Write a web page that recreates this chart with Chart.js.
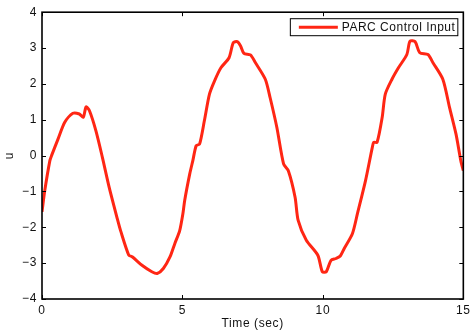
<!DOCTYPE html>
<html>
<head>
<meta charset="utf-8">
<script src="https://cdn.jsdelivr.net/npm/chart.js@4/dist/chart.umd.min.js"></script>
<style>
  html, body { margin: 0; padding: 0; background: #fff; }
  #wrap { width: 474px; height: 331px; }
</style>
</head>
<body>
<div id="wrap"><canvas id="chart"></canvas></div>
<script>
// time samples (sec) and control input u
const times = [0.00, 0.10, 0.28, 0.34, 0.57, 0.81, 1.10, 1.33, 1.47, 1.57, 1.69, 1.92, 2.15, 2.39, 2.68,
  2.80, 3.09, 3.21, 3.56, 3.91, 4.10, 4.32, 4.56, 4.73, 4.90, 5.02, 5.08, 5.26, 5.37, 5.49, 5.61,
  5.78, 5.96, 6.14, 6.37, 6.66, 6.81, 6.95, 7.07, 7.19, 7.42, 7.60, 7.95, 8.12, 8.36, 8.60, 8.77,
  9.01, 9.12, 9.41, 9.82, 9.98, 10.12, 10.29, 10.47, 10.62, 10.76, 11.05, 11.23, 11.52, 11.76,
  11.81, 11.93, 12.11, 12.22, 12.46, 12.69, 12.99, 13.10, 13.28, 13.45, 13.74, 13.92, 14.27,
  14.51, 14.74, 14.91, 15.00];
const controlInput = [-1.57, -0.97, -0.14, 0.00, 0.46, 0.93, 1.18, 1.16, 1.07, 1.36, 1.25, 0.69, -0.05, -0.88, -1.76,
  -2.10, -2.78, -2.82, -3.06, -3.24, -3.29, -3.15, -2.82, -2.45, -2.10, -1.60, -1.25, -0.51, -0.14, 0.28, 0.32,
  0.97, 1.71, 2.08, 2.45, 2.73, 3.15, 3.18, 3.06, 2.85, 2.81, 2.59, 2.13, 1.62, 0.79, -0.23, -0.42,
  -1.16, -1.81, -2.36, -2.78, -3.24, -3.24, -2.92, -2.87, -2.80, -2.59, -2.18, -1.62, -0.69, 0.23,
  0.37, 0.37, 1.06, 1.71, 2.13, 2.45, 2.82, 3.19, 3.18, 2.87, 2.82, 2.59, 2.13,
  1.34, 0.60, -0.14, -0.42];
const xTicks = [0, 5, 10, 15];
const yTicks = [-4, -3, -2, -1, 0, 1, 2, 3, 4];

const FONT = 'Liberation Sans, Arial, Helvetica, sans-serif';
const RED = 'rgb(255, 38, 20)';
const SPACING = '0.6px';

// matlab style box: frame, inward ticks on all four sides, legend with border
const boxPlugin = {
  id: 'matlabBox',
  beforeDraw(chart) { chart.ctx.letterSpacing = SPACING; },
  afterDatasetsDraw(chart) {
    const { ctx, chartArea: a, scales } = chart;
    ctx.save();
    ctx.strokeStyle = '#000';
    ctx.lineWidth = 1;
    const tl = 4;
    ctx.beginPath();
    xTicks.forEach(v => {
      const px = Math.round(scales.x.getPixelForValue(v)) + 0.5;
      ctx.moveTo(px, a.bottom); ctx.lineTo(px, a.bottom - tl);
      ctx.moveTo(px, a.top); ctx.lineTo(px, a.top + tl);
    });
    yTicks.forEach(v => {
      const py = Math.round(scales.y.getPixelForValue(v)) + 0.5;
      ctx.moveTo(a.left, py); ctx.lineTo(a.left + tl, py);
      ctx.moveTo(a.right, py); ctx.lineTo(a.right - tl, py);
    });
    ctx.stroke();
    ctx.lineWidth = 1.6;
    ctx.strokeRect(a.left, a.top, a.right - a.left, a.bottom - a.top);

    // legend
    const ds = chart.data.datasets[0];
    ctx.font = '12px ' + FONT;
    ctx.letterSpacing = '0.5px';
    const tw = ctx.measureText(ds.label).width;
    const bw = 9 + 39 + 4 + tw + 2, bh = 17;
    const bx = a.right - 6 - bw, by = a.top + 6;
    ctx.fillStyle = '#fff';
    ctx.fillRect(bx, by, bw, bh);
    ctx.lineWidth = 1;
    ctx.strokeStyle = '#000';
    ctx.strokeRect(bx + 0.5, by + 0.5, bw, bh);
    ctx.strokeStyle = ds.borderColor;
    ctx.lineWidth = 3;
    ctx.beginPath();
    ctx.moveTo(bx + 9, by + bh / 2 + 0.5);
    ctx.lineTo(bx + 48, by + bh / 2 + 0.5);
    ctx.stroke();
    ctx.fillStyle = '#111';
    ctx.textBaseline = 'middle';
    ctx.fillText(ds.label, bx + 52, by + bh / 2 + 1);
    ctx.restore();
  },
  afterDraw(chart) { chart.ctx.letterSpacing = '0px'; }
};

const tickFont = { family: FONT, size: 12 };

new Chart(document.getElementById('chart'), {
  type: 'line',
  data: {
    datasets: [{
      label: 'PARC Control Input',
      data: times.map((t, i) => ({ x: t, y: controlInput[i] })),
      borderColor: RED,
      backgroundColor: 'transparent',
      borderWidth: 3,
      pointRadius: 0,
      tension: 0.25,
    }],
  },
  options: {
    responsive: true,
    maintainAspectRatio: false,
    animation: false,
    layout: { padding: { left: 0, right: 4, top: 11, bottom: 0 } },
    plugins: { legend: { display: false }, tooltip: { enabled: false } },
    scales: {
      x: {
        type: 'linear', min: 0, max: 15,
        afterBuildTicks: s => { s.ticks = xTicks.map(v => ({ value: v })); },
        afterFit: s => { s.height = 32; },
        grid: { display: false, drawTicks: false },
        border: { display: false },
        ticks: { padding: 4, color: '#111', font: tickFont, maxRotation: 0 },
        title: { display: true, text: 'Time (sec)', color: '#111', font: tickFont, padding: { top: 0, bottom: 0 } },
      },
      y: {
        min: -4, max: 4,
        afterBuildTicks: s => { s.ticks = yTicks.map(v => ({ value: v })); },
        afterFit: s => { s.width = 42; },
        grid: { display: false, drawTicks: false },
        border: { display: false },
        ticks: {
          padding: 5, color: '#111', font: tickFont,
          callback: v => (v < 0 ? '\u2212' + Math.abs(v) : String(v)),
        },
        title: { display: true, text: 'u', color: '#111', font: tickFont, padding: { top: 2, bottom: 0 } },
      },
    },
  },
  plugins: [boxPlugin],
});
</script>
</body>
</html>
